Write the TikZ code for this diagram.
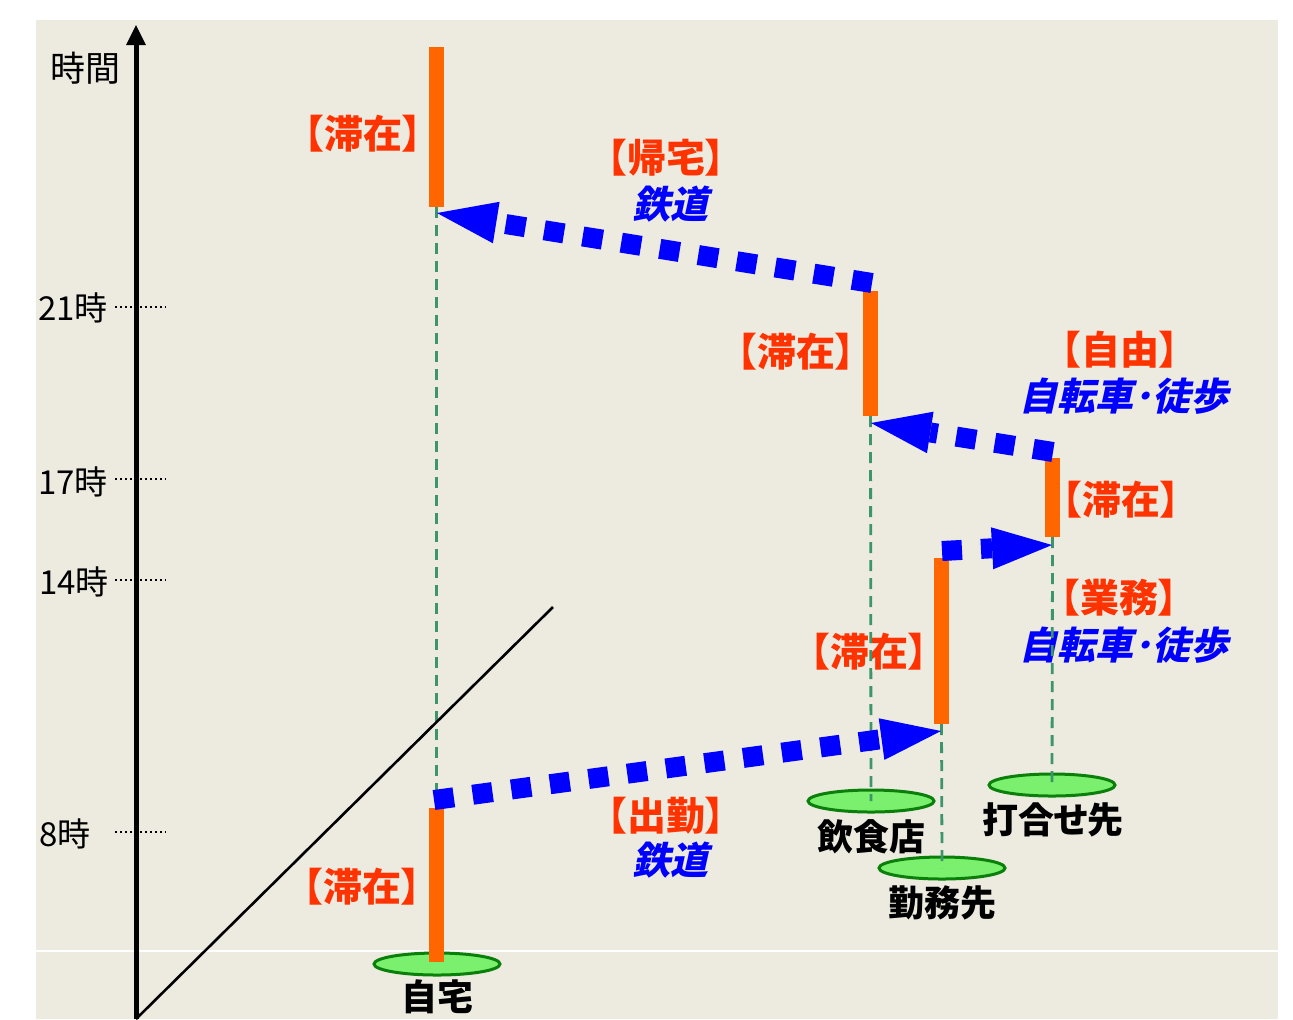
\documentclass[tikz,border=0pt]{standalone}
\usepackage{fontspec}
\newfontfamily\jp[RawFeature=+palt]{Noto Sans CJK JP}
\newfontfamily\jpit[FakeSlant=0.22,RawFeature=+palt]{Noto Sans CJK JP}
\usetikzlibrary{arrows.meta,shapes.geometric}
\definecolor{bg}{RGB}{237,234,224}
\definecolor{barc}{RGB}{255,102,0}
\definecolor{lab}{RGB}{255,51,0}
\definecolor{gdash}{RGB}{60,150,105}
\definecolor{efill}{RGB}{122,240,110}
\definecolor{eline}{RGB}{10,128,10}
\begin{document}
\begin{tikzpicture}[x=0.5pt,y=-0.5pt,
  stay/.style={draw=barc, line width=7.5pt},
  vguide/.style={draw=gdash, line width=1.4pt, dash pattern=on 5.5pt off 3.5pt},
  place/.style={ellipse, draw=eline, line width=1.5pt, fill=efill, minimum width=63pt, minimum height=11pt, inner sep=0pt},
  move/.style={draw=blue, line width=10pt, dash pattern=on 10pt off 9.5pt, -{Triangle[length=30pt,width=21pt,line width=0pt]}},
  cat/.style={text=lab, inner sep=0pt, font=\jp\bfseries\fontsize{19.5}{20}\selectfont},
  mode/.style={text=blue, inner sep=0pt, font=\jpit\bfseries\fontsize{19}{20}\selectfont},
  plabel/.style={inner sep=0pt, font=\jp\bfseries\fontsize{18}{20}\selectfont},
  ticklab/.style={inner sep=0pt, font=\jp\fontsize{16.5}{18}\selectfont},
  tickline/.style={line width=1.2pt, dash pattern=on 1.2pt off 1.3pt},
]
\useasboundingbox (0,0) rectangle (1293,1019);
\fill[white] (0,0) rectangle (1293,1019);
\fill[bg] (36,20) rectangle (1278,1019);
\draw[white, line width=0.6pt] (36,951) -- (1278,951);

% places
\node[place] (home) at (437,964) {};
\node[place] (rest) at (871,801) {};
\node[place] (work) at (942,868) {};
\node[place] (meet) at (1052,785) {};
\node[plabel] (homel) at (437,997) {自宅};
\node[plabel] (restl) at (871,837) {飲食店};
\node[plabel] (workl) at (942,903) {勤務先};
\node[plabel] (meetl) at (1053,820) {打合せ先};

% bar end points
\coordinate (b1t) at (436.5,47);  \coordinate (b1b) at (436.5,207);
\coordinate (b2t) at (870.5,291); \coordinate (b2b) at (870.5,416);
\coordinate (b3t) at (1052.5,458);\coordinate (b3b) at (1052.5,537);
\coordinate (b4t) at (941.5,558); \coordinate (b4b) at (941.5,724);
\coordinate (b5t) at (436.5,808); \coordinate (b5b) at (436.5,962);

% labels
\node[cat] (s1) at (363,134) {【滞在】};
\node[cat] (s2) at (796,352) {【滞在】};
\node[cat] (s3) at (1121,500) {【滞在】};
\node[cat] (s4) at (869,652) {【滞在】};
\node[cat] (s5) at (362,887) {【滞在】};
\node[cat] (c1) at (666,158) {【帰宅】};
\node[mode] (m1) at (670,204) {鉄道};
\node[cat] (c2) at (1120,350) {【自由】};
\node[mode] (m2) at (1124,396) {自転車･徒歩};
\node[cat] (c3) at (1119,598) {【業務】};
\node[mode] (m3) at (1124,645) {自転車･徒歩};
\node[cat] (c4) at (666,816) {【出勤】};
\node[mode] (m4) at (670,860) {鉄道};

% guides
\draw[vguide] (b1b) -- (b5t);
\draw[vguide] (b2b) -- (rest.center);
\draw[vguide] (b4b) -- (work.center);
\draw[vguide] (b3b) -- (meet.center);

% bars
\draw[stay] (b1t) -- (b1b);
\draw[stay] (b2t) -- (b2b);
\draw[stay] (b3t) -- (b3b);
\draw[stay] (b4t) -- (b4b);
\draw[stay] (b5t) -- (b5b);

% diagonal
\coordinate (d0) at (136,1019);
\coordinate (d1) at (553,607);
\draw[line width=1.3pt] (d0) -- (d1);

% axis
\coordinate (ax0) at (136,1019);
\coordinate (ax1) at (136,25);
\draw[line width=2.5pt, -{Triangle[length=10pt,width=10pt,line width=0pt]}] (ax0) -- (ax1);
\node[ticklab, font=\jp\fontsize{17.5}{18}\selectfont] (tl) at (85,68) {時間};

\coordinate (t21a) at (115,307); \coordinate (t21b) at (166,307);
\coordinate (t17a) at (115,479); \coordinate (t17b) at (166,479);
\coordinate (t14a) at (115,580); \coordinate (t14b) at (166,580);
\coordinate (t8a) at (115,832);  \coordinate (t8b) at (166,832);
\draw[tickline] (t21a) -- (t21b);
\draw[tickline] (t17a) -- (t17b);
\draw[tickline] (t14a) -- (t14b);
\draw[tickline] (t8a) -- (t8b);
\node[ticklab] (l21) at (73,308) {21時};
\node[ticklab] (l17) at (73,482) {17時};
\node[ticklab] (l14) at (74,582) {14時};
\node[ticklab] (l8) at (65,834) {8時};

% moves
\coordinate (a1s) at (872,283); \coordinate (a1e) at (437,213);
\coordinate (a2s) at (1053,452); \coordinate (a2e) at (871,423);
\coordinate (a3s) at (942,551); \coordinate (a3e) at (1052,545);
\coordinate (a4s) at (434,800); \coordinate (a4e) at (941,731);
\draw[move] (a1s) -- (a1e);
\draw[move] (a2s) -- (a2e);
\draw[move] (a3s) -- (a3e);
\draw[move] (a4s) -- (a4e);
\end{tikzpicture}
\end{document}
